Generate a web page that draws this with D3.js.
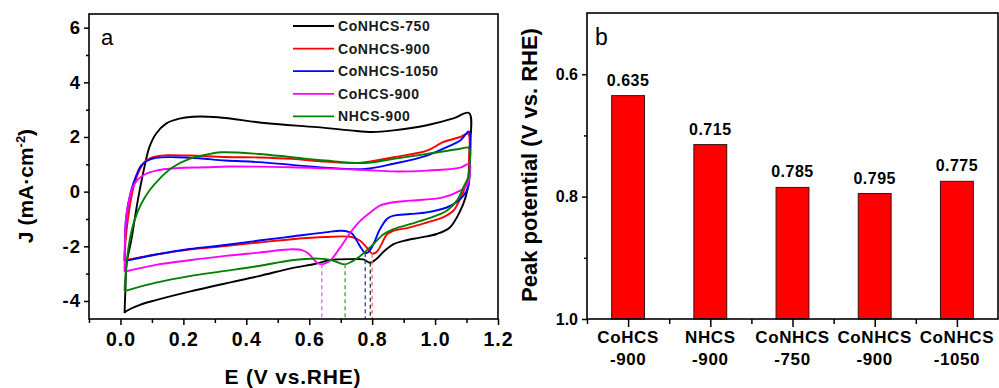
<!DOCTYPE html>
<html>
<head>
<meta charset="utf-8">
<script src="https://cdn.jsdelivr.net/npm/d3@7"></script>
<style>
  html, body { margin: 0; padding: 0; background: #fff; }
  svg { display: block; font-family: "Liberation Sans", Arial, sans-serif; }
  .tick text { font-family: "Liberation Sans", Arial, sans-serif; font-weight: bold; fill: #000; }
</style>
</head>
<body>
<svg id="chart" width="999" height="388"></svg>
<script>
// ---------- Panel a data: CV loops, [E (V vs RHE), J (mA/cm2)] ----------
const cvCoNHCS750 = [
  [0.013,-4.44],[0.016,-3.5],[0.02,-2.6],[0.034,-1.8],[0.055,-0.33],[0.076,0.89],[0.092,1.63],
  [0.113,2.12],[0.145,2.49],[0.187,2.67],[0.23,2.74],[0.31,2.72],[0.466,2.5],[0.625,2.36],
  [0.73,2.24],[0.80,2.18],[0.868,2.24],[0.974,2.43],[1.058,2.68],[1.108,2.88],
  [1.11,1.5],[1.108,0.4],[1.097,-0.2],[1.08,-0.7],[1.047,-1.31],[1.005,-1.55],[0.952,-1.68],
  [0.9,-1.8],[0.868,-1.92],[0.836,-2.2],[0.815,-2.45],[0.794,-2.6],[0.772,-2.48],[0.735,-2.47],
  [0.667,-2.5],[0.62,-2.64],[0.545,-2.8],[0.44,-3.09],[0.333,-3.36],[0.219,-3.66],[0.113,-3.97],
  [0.06,-4.15],[0.018,-4.38],[0.013,-4.44]
];
const cvCoNHCS900 = [
  [0.013,-2.51],[0.015,-2.0],[0.018,-1.56],[0.029,-0.58],[0.044,0.28],[0.06,0.77],[0.076,1.08],
  [0.103,1.26],[0.145,1.33],[0.219,1.32],[0.333,1.27],[0.44,1.25],[0.545,1.2],[0.65,1.1],
  [0.756,1.05],[0.868,1.26],[0.974,1.5],[1.025,1.81],[1.08,2.0],[1.105,2.12],
  [1.108,1.2],[1.105,0.53],[1.09,0.0],[1.08,-0.25],[1.058,-0.7],[1.025,-0.94],[0.974,-1.13],
  [0.92,-1.31],[0.868,-1.43],[0.847,-1.56],[0.83,-1.92],[0.815,-2.2],[0.8,-2.27],[0.783,-2.05],
  [0.762,-1.8],[0.735,-1.66],[0.65,-1.66],[0.545,-1.74],[0.44,-1.86],[0.333,-1.99],[0.219,-2.12],
  [0.113,-2.3],[0.013,-2.51]
];
const cvCoNHCS1050 = [
  [0.013,-2.54],[0.014,-2.05],[0.018,-0.94],[0.034,0.04],[0.05,0.59],[0.066,0.96],[0.087,1.14],
  [0.113,1.24],[0.177,1.26],[0.25,1.22],[0.333,1.14],[0.44,1.08],[0.545,0.98],[0.65,0.88],
  [0.778,0.83],[0.868,1.02],[0.974,1.32],[1.037,1.63],[1.08,1.87],[1.108,2.2],
  [1.11,0.9],[1.105,0.16],[1.09,-0.15],[1.069,-0.38],[1.037,-0.58],[0.974,-0.76],[0.92,-0.82],
  [0.868,-0.88],[0.847,-1.0],[0.825,-1.37],[0.804,-1.92],[0.789,-2.2],[0.778,-2.25],[0.767,-2.1],
  [0.751,-1.8],[0.735,-1.52],[0.703,-1.43],[0.65,-1.49],[0.545,-1.64],[0.44,-1.79],[0.333,-1.95],
  [0.219,-2.1],[0.113,-2.3],[0.013,-2.54]
];
const cvCoHCS900 = [
  [0.013,-2.93],[0.014,-2.05],[0.018,-0.94],[0.029,-0.21],[0.044,0.28],[0.071,0.59],[0.113,0.77],
  [0.177,0.86],[0.272,0.89],[0.346,0.92],[0.545,0.89],[0.65,0.85],[0.778,0.79],[0.868,0.74],
  [0.974,0.77],[1.08,0.88],[1.11,1.02],
  [1.108,0.5],[1.1,0.2],[1.08,0.04],[1.025,-0.21],[0.92,-0.33],[0.868,-0.39],[0.825,-0.51],
  [0.794,-0.76],[0.762,-1.07],[0.735,-1.43],[0.698,-2.05],[0.667,-2.52],[0.65,-2.63],[0.64,-2.66],
  [0.625,-2.6],[0.61,-2.42],[0.598,-2.27],[0.577,-2.14],[0.545,-2.11],[0.44,-2.23],[0.333,-2.35],
  [0.219,-2.51],[0.113,-2.68],[0.013,-2.93]
];
const cvNHCS900 = [
  [0.013,-3.64],[0.018,-2.78],[0.029,-1.8],[0.044,-1.07],[0.066,-0.45],[0.092,0.04],[0.124,0.47],
  [0.166,0.89],[0.219,1.2],[0.272,1.35],[0.32,1.44],[0.44,1.38],[0.545,1.26],[0.65,1.14],
  [0.778,1.05],[0.868,1.2],[0.974,1.38],[1.08,1.57],[1.108,1.6],
  [1.11,1.0],[1.105,0.53],[1.09,0.16],[1.069,-0.33],[1.037,-0.7],[0.974,-1.0],[0.92,-1.19],
  [0.868,-1.37],[0.836,-1.56],[0.804,-1.92],[0.773,-2.25],[0.757,-2.4],[0.735,-2.56],[0.714,-2.66],
  [0.693,-2.6],[0.672,-2.51],[0.629,-2.45],[0.545,-2.51],[0.44,-2.72],[0.333,-2.9],[0.219,-3.09],
  [0.113,-3.33],[0.013,-3.64]
];
const seriesNames  = ["CoNHCS-750","CoNHCS-900","CoNHCS-1050","CoHCS-900","NHCS-900"];
const seriesColors = ["#000000","#ff0000","#0000ff","#ff00ff","#008000"];
const seriesLoops  = [cvCoNHCS750, cvCoNHCS900, cvCoNHCS1050, cvCoHCS900, cvNHCS900];
// reduction peak markers (E, J) per series, same order
const peakE = [0.794, 0.800, 0.778, 0.640, 0.714];
const peakJ = [-2.60, -2.27, -2.25, -2.66, -2.66];
const dashColors = ["#333333","#f07070","#3030ff","#ff55ff","#40a040"];

const xTicksA = [0.0,0.2,0.4,0.6,0.8,1.0,1.2];
const yTicksA = [-4,-2,0,2,4,6];

// ---------- Panel b data ----------
const categoriesB = [["CoHCS","-900"],["NHCS","-900"],["CoNHCS","-750"],["CoNHCS","-900"],["CoNHCS","-1050"]];
const peakPotential = [0.635, 0.715, 0.785, 0.795, 0.775];
const valueLabels = ["0.635","0.715","0.785","0.795","0.775"];
const yTicksB = [0.6, 0.8, 1.0];

// ---------- Drawing ----------
const svg = d3.select("#chart");
const FONT = '"Liberation Sans", Arial, sans-serif';

// ===== Panel a =====
const A = {l: 89, r: 498, t: 14, b: 319};
const xA = d3.scaleLinear().domain([-0.1, 1.2]).range([A.l, A.r]);
const yA = d3.scaleLinear().domain([-4.66, 6.5]).range([A.b, A.t]);

const ga = svg.append("g");

// curves
const line = d3.line().x(d => xA(d[0])).y(d => yA(d[1])).curve(d3.curveCatmullRom.alpha(0.5));
seriesLoops.forEach((loop, i) => {
  ga.append("path").attr("d", line(loop)).attr("fill", "none")
    .attr("stroke", seriesColors[i]).attr("stroke-width", 1.9).attr("stroke-linejoin", "round");
});
// dashed drop lines
peakE.forEach((e, i) => {
  ga.append("line").attr("x1", xA(e)).attr("x2", xA(e))
    .attr("y1", yA(peakJ[i])).attr("y2", A.b)
    .attr("stroke", dashColors[i]).attr("stroke-width", 1.3).attr("stroke-dasharray", "4,3");
});

// axes
const xAxisA = d3.axisBottom(xA).tickValues(xTicksA).tickFormat(d3.format(".1f")).tickSize(6).tickPadding(7);
const xAxisAm = d3.axisBottom(xA).tickValues(d3.range(-0.1, 1.2, 0.2)).tickFormat("").tickSize(4);
const yAxisA = d3.axisLeft(yA).tickValues(yTicksA).tickFormat(d3.format("d")).tickSize(5).tickPadding(3);
const yAxisAm = d3.axisLeft(yA).tickValues([-3,-1,1,3,5]).tickFormat("").tickSize(3);

function styleAxis(g, fs, ls) {
  g.select(".domain").remove();
  g.selectAll(".tick line").attr("stroke", "#000").attr("stroke-width", 1.5);
  g.selectAll(".tick text").attr("font-size", fs).attr("font-weight", "bold").attr("font-family", FONT)
    .attr("letter-spacing", ls || 0);
}
const gxa = ga.append("g").attr("transform", `translate(0,${A.b})`).call(xAxisA); styleAxis(gxa, 19.5, 1);
const gxam = ga.append("g").attr("transform", `translate(0,${A.b})`).call(xAxisAm); styleAxis(gxam, 19);
const gya = ga.append("g").attr("transform", `translate(${A.l},0)`).call(yAxisA); styleAxis(gya, 18.5, 1);
const gyam = ga.append("g").attr("transform", `translate(${A.l},0)`).call(yAxisAm); styleAxis(gyam, 18);
// plain hyphen for negatives, as in the reference
gya.selectAll(".tick text").text(d => String(d));

ga.append("rect").attr("x", A.l).attr("y", A.t).attr("width", A.r - A.l).attr("height", A.b - A.t)
  .attr("fill", "none").attr("stroke", "#000").attr("stroke-width", 1.6);

// panel letter
ga.append("text").attr("x", 101).attr("y", 45).attr("font-size", 22).attr("font-family", FONT).text("a");

// legend
seriesNames.forEach((name, i) => {
  const y = 26 + i * 22.6;
  ga.append("line").attr("x1", 293).attr("x2", 334).attr("y1", y).attr("y2", y)
    .attr("stroke", seriesColors[i]).attr("stroke-width", 1.8);
  ga.append("text").attr("x", 338).attr("y", y + 5).attr("font-size", 14).attr("font-weight", "bold")
    .attr("letter-spacing", 0.6).attr("font-family", FONT).attr("fill", "#1a1a1a").text(name);
});

// axis titles
ga.append("text").attr("x", 293).attr("y", 384).attr("text-anchor", "middle")
  .attr("font-size", 21).attr("font-weight", "bold").attr("font-family", FONT).attr("letter-spacing", 0.8)
  .text("E (V vs.RHE)");
const yt = ga.append("text").attr("transform", "translate(33,186) rotate(-90)").attr("text-anchor", "middle")
  .attr("font-size", 21).attr("font-weight", "bold").attr("font-family", FONT);
yt.append("tspan").text("J (mA·cm");
yt.append("tspan").attr("font-size", 13).attr("dy", -8).text("-2");
yt.append("tspan").attr("dy", 8).text(")");

// ===== Panel b =====
const B = {l: 587, r: 998, t: 13, b: 319};
const xB = d3.scaleBand().domain(d3.range(categoriesB.length)).range([B.l, B.r]).paddingInner(0.6).paddingOuter(0.3);
const yB = d3.scaleLinear().domain([0.5, 1.0]).range([B.t, B.b]);

const gb = svg.append("g");
gb.selectAll("rect.bar").data(peakPotential).enter().append("rect").attr("class", "bar")
  .attr("x", (d, i) => xB(i)).attr("width", xB.bandwidth())
  .attr("y", d => yB(d)).attr("height", d => yB(1.0) - yB(d))
  .attr("fill", "#ff0000").attr("stroke", "#3a1010").attr("stroke-width", 1);
gb.selectAll("text.val").data(peakPotential).enter().append("text").attr("class", "val")
  .attr("x", (d, i) => xB(i) + xB.bandwidth() / 2).attr("y", d => yB(d) - 10)
  .attr("text-anchor", "middle").attr("font-size", 16).attr("font-weight", "bold").attr("font-family", FONT)
  .attr("letter-spacing", 0.5)
  .text((d, i) => valueLabels[i]);

// y axis b
const yAxisB = d3.axisLeft(yB).tickValues(yTicksB).tickFormat(d3.format(".1f")).tickSize(5).tickPadding(4);
const yAxisBm = d3.axisLeft(yB).tickValues([0.7, 0.9]).tickFormat("").tickSize(3);
const gyb = gb.append("g").attr("transform", `translate(${B.l},0)`).call(yAxisB); styleAxis(gyb, 16);
const gybm = gb.append("g").attr("transform", `translate(${B.l},0)`).call(yAxisBm); styleAxis(gybm, 16);

// x axis b: long ticks at category centres, short ticks at boundaries
const xPos = d3.scaleLinear().domain([0, categoriesB.length]).range([B.l, B.r]);
const xAxisBmaj = d3.axisBottom(xPos).tickValues(d3.range(0.5, categoriesB.length, 1)).tickFormat("").tickSize(8);
const xAxisBmin = d3.axisBottom(xPos).tickValues(d3.range(0, categoriesB.length, 1)).tickFormat("").tickSize(5);
const gxb1 = gb.append("g").attr("transform", `translate(0,${B.b})`).call(xAxisBmaj); styleAxis(gxb1, 16);
const gxb2 = gb.append("g").attr("transform", `translate(0,${B.b})`).call(xAxisBmin); styleAxis(gxb2, 16);

categoriesB.forEach((c, i) => {
  const cx = xB(i) + xB.bandwidth() / 2;
  const t = gb.append("text").attr("text-anchor", "middle").attr("font-size", 17)
    .attr("font-weight", "bold").attr("font-family", FONT).attr("letter-spacing", 0.6);
  t.append("tspan").attr("x", cx).attr("y", 343).text(c[0]);
  t.append("tspan").attr("x", cx).attr("y", 365).text(c[1]);
});

gb.append("rect").attr("x", B.l).attr("y", B.t).attr("width", B.r - B.l).attr("height", B.b - B.t)
  .attr("fill", "none").attr("stroke", "#000").attr("stroke-width", 1.6);

gb.append("text").attr("x", 595).attr("y", 45).attr("font-size", 23).attr("font-family", FONT).text("b");

gb.append("text").attr("transform", "translate(537,165) rotate(-90)").attr("text-anchor", "middle")
  .attr("font-size", 22).attr("font-weight", "bold").attr("font-family", FONT)
  .text("Peak potential (V vs. RHE)");
</script>
</body>
</html>
